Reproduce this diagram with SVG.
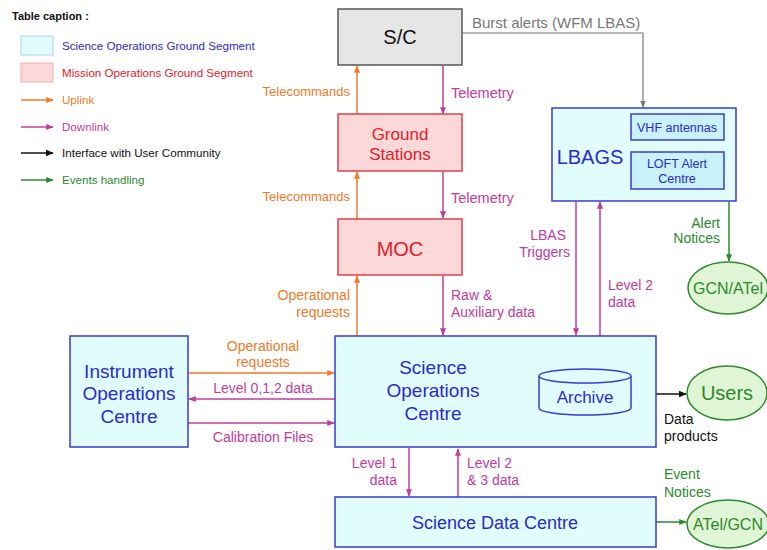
<svg xmlns="http://www.w3.org/2000/svg" width="767" height="550" viewBox="0 0 767 550">
<defs>
<marker id="aO" viewBox="0 0 10 10" refX="9" refY="5" markerWidth="5" markerHeight="5" orient="auto"><path d="M0,1 L10,5 L0,9 z" fill="#f07a2a"/></marker>
<marker id="aM" viewBox="0 0 10 10" refX="9" refY="5" markerWidth="5" markerHeight="5" orient="auto"><path d="M0,1 L10,5 L0,9 z" fill="#c03c9c"/></marker>
<marker id="aK" viewBox="0 0 10 10" refX="9" refY="5" markerWidth="5.5" markerHeight="5.5" orient="auto"><path d="M0,1 L10,5 L0,9 z" fill="#111"/></marker>
<marker id="aG" viewBox="0 0 10 10" refX="9" refY="5" markerWidth="5" markerHeight="5" orient="auto"><path d="M0,1 L10,5 L0,9 z" fill="#2c8a2c"/></marker>
<marker id="aY" viewBox="0 0 10 10" refX="9" refY="5" markerWidth="6" markerHeight="6" orient="auto"><path d="M0,1 L10,5 L0,9 z" fill="#777"/></marker>
</defs>
<style>
text{font-family:"Liberation Sans",Arial,sans-serif}
.sci{fill:#e0fcfd;stroke:#3a3ad0;stroke-width:1.5}
.sci2{fill:#c8f2f8;stroke:#3a3ad0;stroke-width:1.5}
.mis{fill:#fcd8d8;stroke:#e0404a;stroke-width:1.5}
.usr{fill:#dff5d6;stroke:#2c8a2c;stroke-width:1.5}
.bt{fill:#2a2ad0}
.rt{fill:#e0202a}
.ot{fill:#f07a2a}
.mt{fill:#c03c9c}
.gt{fill:#2c8a2c}
.kt{fill:#111}
.up{stroke:#f07a2a;stroke-width:1.5;fill:none;marker-end:url(#aO)}
.dn{stroke:#c03c9c;stroke-width:1.5;fill:none;marker-end:url(#aM)}
.ui{stroke:#111;stroke-width:1.5;fill:none;marker-end:url(#aK)}
.ev{stroke:#2c8a2c;stroke-width:1.5;fill:none;marker-end:url(#aG)}
.lg{font-size:11.6px}
.al{font-size:14px}
</style>
<rect width="767" height="550" fill="#fff"/>

<g id="legend">
<text x="12" y="20" font-size="11" font-weight="bold" class="kt">Table caption :</text>
<rect x="21" y="36" width="32" height="19" fill="#e0fcfd" stroke="#a8d4f0"/>
<text x="62" y="50" class="lg bt">Science Operations Ground Segment</text>
<rect x="21" y="63" width="32" height="19" fill="#fcd8d8" stroke="#f4b0b0"/>
<text x="62" y="77" class="lg rt">Mission Operations Ground Segment</text>
<line x1="21" y1="100" x2="53" y2="100" class="up"/>
<text x="62" y="104" class="lg ot">Uplink</text>
<line x1="21" y1="127" x2="53" y2="127" class="dn"/>
<text x="62" y="131" class="lg mt">Downlink</text>
<line x1="21" y1="153" x2="53" y2="153" class="ui"/>
<text x="62" y="157" class="lg kt">Interface with User Community</text>
<line x1="21" y1="180" x2="53" y2="180" class="ev"/>
<text x="62" y="184" class="lg gt">Events handling</text>
</g>

<g id="connectors">
<polyline points="460,33 643,33 643,107" stroke="#777" stroke-width="1.2" fill="none" marker-end="url(#aY)"/>
<line x1="357" y1="114" x2="357" y2="66" class="up"/>
<line x1="443" y1="66" x2="443" y2="114" class="dn"/>
<line x1="357" y1="219" x2="357" y2="172" class="up"/>
<line x1="443" y1="172" x2="443" y2="218" class="dn"/>
<line x1="357" y1="336" x2="357" y2="276" class="up"/>
<line x1="443" y1="276" x2="443" y2="335" class="dn"/>
<line x1="576" y1="202" x2="576" y2="335" class="dn"/>
<line x1="600" y1="336" x2="600" y2="202" class="dn"/>
<line x1="729" y1="202" x2="729" y2="261" class="ev"/>
<line x1="188" y1="373" x2="334" y2="373" class="up"/>
<line x1="335" y1="399" x2="189" y2="399" class="dn"/>
<line x1="188" y1="423" x2="334" y2="423" class="dn"/>
<line x1="631" y1="394" x2="686" y2="394" class="ui"/>
<line x1="409" y1="448" x2="409" y2="496" class="dn"/>
<line x1="458" y1="497" x2="458" y2="449" class="dn"/>
<line x1="656" y1="522" x2="686" y2="522" class="ev"/>
</g>

<g id="labels">
<text x="472" y="28" font-size="15" fill="#777">Burst alerts (WFM LBAS)</text>
<text x="350" y="96" text-anchor="end" font-size="13" class="ot">Telecommands</text>
<text x="451" y="98" font-size="14.5" class="mt">Telemetry</text>
<text x="350" y="201" text-anchor="end" font-size="13" class="ot">Telecommands</text>
<text x="451" y="203" font-size="14.5" class="mt">Telemetry</text>
<text x="350" y="300" text-anchor="end" class="al ot">Operational</text>
<text x="350" y="317" text-anchor="end" class="al ot">requests</text>
<text x="451" y="300" class="al mt">Raw &amp;</text>
<text x="451" y="317" class="al mt">Auxiliary data</text>
<text x="566" y="240" text-anchor="end" class="al mt">LBAS</text>
<text x="570" y="257" text-anchor="end" class="al mt">Triggers</text>
<text x="608" y="290" class="al mt">Level 2</text>
<text x="608" y="307" class="al mt">data</text>
<text x="720" y="228" text-anchor="end" class="al gt">Alert</text>
<text x="720" y="243" text-anchor="end" class="al gt">Notices</text>
<text x="263" y="351" text-anchor="middle" class="al ot">Operational</text>
<text x="263" y="367" text-anchor="middle" class="al ot">requests</text>
<text x="263" y="393" text-anchor="middle" class="al mt">Level 0,1,2 data</text>
<text x="263" y="442" text-anchor="middle" class="al mt">Calibration Files</text>
<text x="664" y="424" class="al kt">Data</text>
<text x="664" y="441" class="al kt">products</text>
<text x="397" y="468" text-anchor="end" class="al mt">Level 1</text>
<text x="397" y="485" text-anchor="end" class="al mt">data</text>
<text x="467" y="468" class="al mt">Level 2</text>
<text x="467" y="485" class="al mt">&amp; 3 data</text>
<text x="664" y="479" class="al gt">Event</text>
<text x="664" y="497" class="al gt">Notices</text>
</g>

<g id="sc">
<rect x="338" y="9" width="124" height="56" fill="#e6e6e6" stroke="#555" stroke-width="1.5"/>
<text x="400" y="44" text-anchor="middle" font-size="20" class="kt">S/C</text>
</g>
<g id="ground-stations">
<rect x="338" y="114" width="124" height="57" class="mis"/>
<text x="400" y="140" text-anchor="middle" font-size="17" class="rt">Ground</text>
<text x="400" y="160" text-anchor="middle" font-size="17" class="rt">Stations</text>
</g>
<g id="moc">
<rect x="338" y="219" width="124" height="56" class="mis"/>
<text x="400" y="256" text-anchor="middle" font-size="20" class="rt">MOC</text>
</g>
<g id="lbags">
<rect x="552" y="108" width="184" height="93" class="sci"/>
<text x="590" y="164" text-anchor="middle" font-size="20" class="bt">LBAGS</text>
<rect x="631" y="114" width="93" height="26" class="sci2"/>
<text x="677" y="132" text-anchor="middle" font-size="12.5" class="bt">VHF antennas</text>
<rect x="631" y="152" width="93" height="37" class="sci2"/>
<text x="677" y="168" text-anchor="middle" font-size="12.5" class="bt">LOFT Alert</text>
<text x="677" y="183" text-anchor="middle" font-size="12.5" class="bt">Centre</text>
</g>
<g id="gcn-atel">
<ellipse cx="728" cy="288" rx="40" ry="26" class="usr"/>
<text x="728" y="294" text-anchor="middle" font-size="16" class="gt">GCN/ATel</text>
</g>
<g id="ioc">
<rect x="70" y="336" width="118" height="111" class="sci"/>
<text x="129" y="378" text-anchor="middle" font-size="19" class="bt">Instrument</text>
<text x="129" y="400" text-anchor="middle" font-size="19" class="bt">Operations</text>
<text x="129" y="423" text-anchor="middle" font-size="19" class="bt">Centre</text>
</g>
<g id="soc">
<rect x="335" y="336" width="321" height="111" class="sci"/>
<text x="433" y="374" text-anchor="middle" font-size="19" class="bt">Science</text>
<text x="433" y="397" text-anchor="middle" font-size="19" class="bt">Operations</text>
<text x="433" y="420" text-anchor="middle" font-size="19" class="bt">Centre</text>
</g>
<g id="archive">
<path d="M539,376 L539,408 A46,7 0 0 0 631,408 L631,376" class="sci"/>
<ellipse cx="585" cy="376" rx="46" ry="7" class="sci"/>
<text x="585" y="403" text-anchor="middle" font-size="17" class="bt">Archive</text>
</g>
<g id="users">
<ellipse cx="727" cy="393" rx="40" ry="27" class="usr"/>
<text x="727" y="400" text-anchor="middle" font-size="20" class="gt">Users</text>
</g>
<g id="sdc">
<rect x="335" y="497" width="321" height="50" class="sci"/>
<text x="495" y="529" text-anchor="middle" font-size="18" class="bt">Science Data Centre</text>
</g>
<g id="atel-gcn">
<ellipse cx="728" cy="524" rx="41" ry="24" class="usr"/>
<text x="728" y="530" text-anchor="middle" font-size="16" class="gt">ATel/GCN</text>
</g>
</svg>
